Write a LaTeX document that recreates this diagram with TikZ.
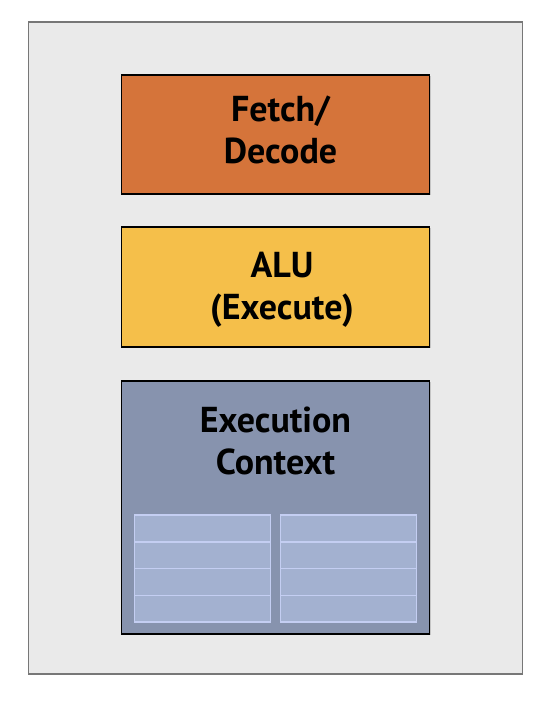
\documentclass[tikz,border=0pt]{standalone}
\usepackage{fontspec}
\setmainfont{PT Sans}
\usetikzlibrary{shadows}
\definecolor{bgfill}{HTML}{EAEAEA}
\definecolor{bgline}{HTML}{777777}
\definecolor{fetchc}{HTML}{D5743A}
\definecolor{aluc}{HTML}{F5BF4A}
\definecolor{ctxc}{HTML}{8793AE}
\definecolor{cellc}{HTML}{A3B1D0}
\definecolor{cellline}{HTML}{C4CEF2}
\tikzset{
  outerbox/.style={draw=bgline, fill=bgfill, line width=1.6pt, minimum width=494pt, minimum height=652pt, inner sep=0pt},
  unitbox/.style={draw=black, line width=1.4pt, minimum width=308pt, inner sep=0pt,
    drop shadow={shadow xshift=1.2pt, shadow yshift=-1.2pt, opacity=0.35}},
  label/.style={font=\bfseries\fontsize{36}{42}\selectfont, align=center, inner sep=0pt, text=black},
  cell/.style={draw=cellline, fill=cellc, line width=1.5pt, minimum width=136pt, minimum height=26.75pt, inner sep=0pt}
}
\begin{document}
\begin{tikzpicture}[x=1pt,y=-1pt]
\useasboundingbox (0,0) rectangle (556,704);
\node[outerbox] (outer) at (275.5,348) {};
\node[unitbox, fill=fetchc, minimum height=119pt] (fetch) at (275.5,134.5) {};
\node[unitbox, fill=aluc, minimum height=120pt] (alu) at (275.5,287) {};
\node[unitbox, fill=ctxc, minimum height=253pt] (ctx) at (275.5,507.5) {};
\node[label] (fetcht) at (280.5,130) {Fetch/\\Decode};
\node[label] (alut) at (282,290) {ALU\\(Execute)};
\node[label] (ctxt) at (275.5,441) {Execution\\Context};
\foreach \i in {0,1,2,3} {
  \node[cell] (l\i) at (202.5,528.4+26.75*\i) {};
  \node[cell] (r\i) at (348.5,528.4+26.75*\i) {};
}
\end{tikzpicture}
\end{document}
